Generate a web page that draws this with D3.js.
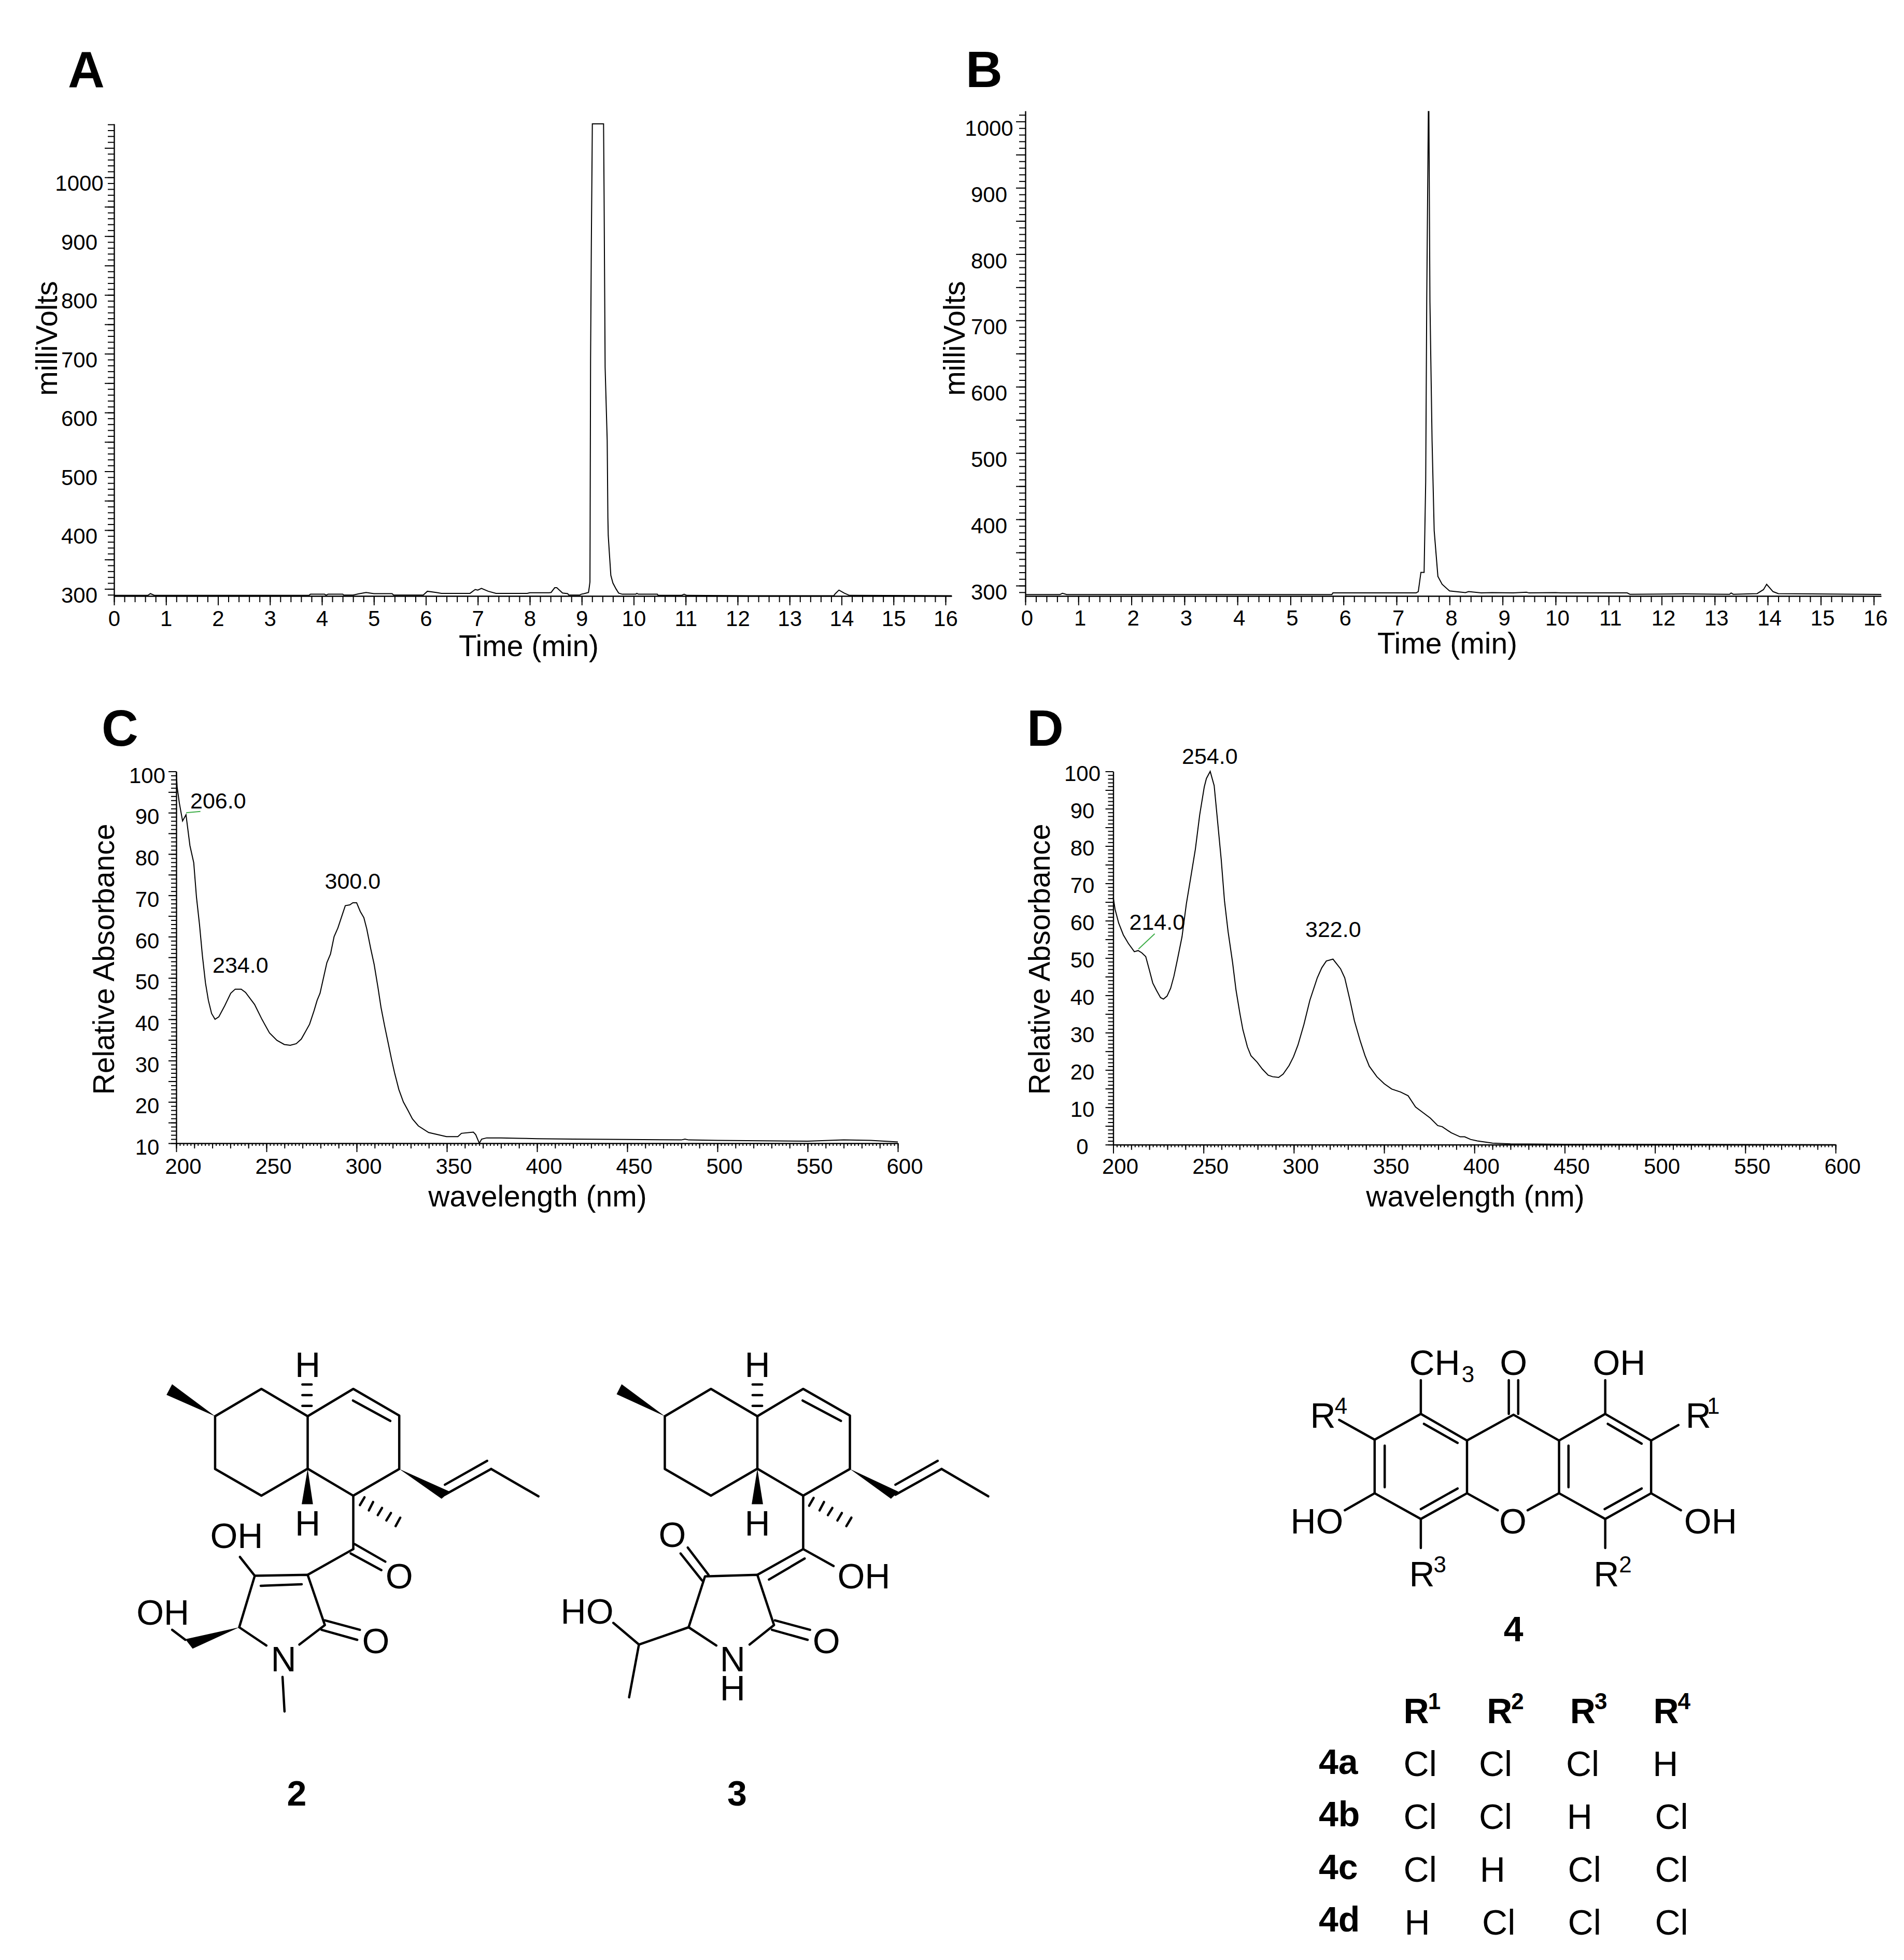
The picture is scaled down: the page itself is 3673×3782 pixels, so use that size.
<!DOCTYPE html>
<html><head><meta charset="utf-8">
<script src="https://cdnjs.cloudflare.com/ajax/libs/d3/7.8.5/d3.min.js"></script>
<style>html,body{margin:0;background:#fff}text{font-family:"Liberation Sans",Arial,sans-serif;fill:#000}</style>
</head><body><div id="chart"></div>
<script>
// ---------- chromatogram A ----------
const aTime=[0,0.65,0.7,0.78,3.75,3.78,4.05,4.08,4.12,4.4,4.42,4.6,4.7,4.85,5.0,5.35,5.38,5.95,6.03,6.2,6.3,6.85,6.95,7.0,7.07,7.2,7.35,7.95,8.0,8.37,8.41,8.48,8.52,8.63,8.73,8.75,8.96,8.99,9.045,9.13,9.145,9.158,9.161,9.17,9.185,9.204,9.42,9.43,9.45,9.49,9.503,9.51,9.53,9.56,9.6,9.66,9.71,9.78,10.04,10.06,10.09,10.455,10.47,10.92,10.97,11.02,12.2,13.85,13.88,13.95,14.05,14.15,16.12];
const aMv=[289,289,292,289,289,291,291,289.5,291,291,289.5,289.5,291.5,294,292,292,289.5,289.5,296,294,292.5,292.5,299,298,301,296,292.5,292.5,293.5,293.5,294,302,302,293,292,289.5,289.5,291,292,294,303,312,391,690,890,1091,1091,970,677,552,421,391,363,323,310,300,293,291,291,292.5,291,291,289,289,291,289,288.5,288.5,292,298,293,289,288.5];
// ---------- chromatogram B ----------
const bTime=[0,0.65,0.7,0.78,5.78,5.8,7.37,7.41,7.46,7.52,7.55,7.57,7.6,7.61,7.63,7.67,7.71,7.78,7.86,8.0,8.3,8.36,8.6,8.8,9.2,9.45,9.5,10,10.1,11.35,11.4,12.45,13.28,13.31,13.35,13.8,13.92,13.98,14.1,14.2,16.14];
const bMv=[286.5,286.5,288.5,286.5,286.5,289,289,291,320,320,457,735,1015,1015,728,519,383,314,302,292,289.5,291,289,289.5,289,290,289,289.5,289,289,287,287.5,287,289,287,288,294,302,291,288,286.7];
// ---------- UV spectrum C ----------
const cWave=[200,200.5,201.7,203.5,205.4,207.6,209.7,211.2,212.9,214.5,216.2,217.8,219.6,221.5,223.6,226.9,230.2,232.7,236,238.4,243.4,247.5,251.7,255.8,259.9,263.2,266.5,269.3,271.5,273.9,276.4,278.1,279.7,281.8,283.5,285.5,287.5,289.6,292.1,293.7,296.2,297.9,300,302,304,305.6,307.8,309.7,311.9,313.5,315.5,317.7,319.3,321,323.4,325.9,328.4,330.9,334.2,339.9,349.8,356.1,358.1,364.7,366,368,369.3,372.1,380,390,400,420,450,480,482,484,500,550,570,585,600];
const cAbs=[100,96.2,92.4,88,89.5,82,77.9,69.6,62.9,55.4,48.8,44.6,41.4,40,40.6,43.3,46.3,47.3,47.3,46.5,43.6,40,36.7,34.9,33.9,33.7,34.1,35.2,36.9,38.8,42.1,44.6,46.3,50.4,53.7,55.8,60,62.1,65.4,67.5,67.7,68.2,68.2,66.1,64.6,61.9,57.1,53.3,47.5,42.9,38.4,33.8,30.4,27.1,23,20,18,15.9,14.2,12.6,11.6,11.6,12.4,12.7,12.1,10,11,11.3,11.3,11.2,11.1,11,10.9,10.8,11,10.8,10.7,10.5,10.8,10.7,10.3];
// ---------- UV spectrum D ----------
const dWave=[200,201,203,205.6,208.4,211.7,213.8,215.8,218,219.9,221.9,224,226.2,227.8,229.8,231.8,233.6,235.6,238.1,240.5,243,245.5,247.9,250.4,251.6,253.7,255.9,257.8,259.8,261.6,263.6,266.1,268,270.2,271.8,274.3,276.3,279.7,282.5,285.8,288.3,291.6,294.1,297.4,299.8,302.3,305.6,308.9,313,315.5,318,321.7,325.9,328.2,331.1,333.6,336.9,339.4,341.8,346,350.1,354.2,359.1,363.3,367.4,371.5,375.6,379.7,382.2,387.1,392.1,394.6,397.9,401.6,410,420,450,600];
const dAbs=[66.3,63.1,59.4,56.2,53.9,51.7,52,51.4,50.4,47,43.3,41.3,39.4,39,39.8,41.9,45.1,49.7,55.7,64.5,71.8,79.2,88.4,95.8,98.1,100,96.2,86.6,76.4,65.4,57.1,48.8,41.4,35,30.8,26.2,23.8,22.1,20.3,18.6,18.2,18,18.9,21.2,23.5,26.7,32.2,38.7,44.7,47.4,49.2,49.7,47.1,44.7,38.7,33.1,27.6,23.9,21,18.2,16.3,14.9,14.1,13.1,10.1,8.6,7.1,5.1,4.8,3.2,2.1,2.1,1.4,1,0.4,0.2,0.1,0];
// ---------- tick labels ----------
const timeTicks=d3.range(0,17);
const mvTicksA=[300,400,500,600,700,800,900,1000];
const mvTicksB=[300,400,500,600,700,800,900,1000];
const waveTicks=[200,250,300,350,400,450,500,550,600];
const absTicksC=[10,20,30,40,50,60,70,80,90,100];
const absTicksD=[0,10,20,30,40,50,60,70,80,90,100];
// ---------- peak annotations ----------
const cPeakLabels=["206.0","234.0","300.0"];
const dPeakLabels=["254.0","214.0","322.0"];
// ---------- substituent table ----------
const subHeads=["1","2","3","4"];
const subRows=["4a","4b","4c","4d"];
const subVals=[["Cl","Cl","Cl","H"],["Cl","Cl","H","Cl"],["Cl","H","Cl","Cl"],["H","Cl","Cl","Cl"]];

const W=3673,H=3782;
const svg=d3.select("#chart").append("svg").attr("width",W).attr("height",H).style("display","block");
svg.append("rect").attr("width",W).attr("height",H).attr("fill","#fff");

function label(t,x,y,o={}){
  const e=svg.append("text").attr("x",x).attr("y",y).text(t)
    .attr("font-size",o.size||57).attr("text-anchor",o.anchor||"start")
    .attr("font-weight",o.bold?"bold":"normal");
  if(o.rot) e.attr("transform",`rotate(-90 ${x} ${y})`);
  return e;
}
// text followed by a raised or lowered small part, kept in one text element
function withScript(base,script,x,y,dx,dy,bold){
  const e=svg.append("text").attr("x",x).attr("y",y).attr("font-size",68)
    .attr("font-weight",bold?"bold":"normal");
  e.append("tspan").text(base);
  e.append("tspan").attr("dx",dx).attr("dy",dy).attr("font-size",44).text(script);
}

function panel(p){
  const x=d3.scaleLinear().domain(p.xDomain).range(p.xRange);
  const y=d3.scaleLinear().domain(p.yDomain).range(p.yRange);
  const g=svg.append("g");
  function tickLayer(axis,vals,size){
    const a=g.append("g").attr("transform",axis.t)
      .call(axis.fn.tickValues(vals).tickSize(size).tickFormat(""));
    a.selectAll("path").remove();
    a.selectAll("line").attr("stroke","#000").attr("stroke-width",2);
    return a;
  }
  const bx={t:`translate(0,${p.yRange[0]})`,fn:d3.axisBottom(x)};
  const ly={t:`translate(${p.xRange[0]},0)`,fn:d3.axisLeft(y)};
  p.xLevels.forEach(l=>tickLayer(bx,l.v,l.s));
  p.yLevels.forEach(l=>tickLayer(ly,l.v,l.s));
  const fmt=d3.format("d");
  const ax=g.append("g").attr("transform",bx.t).call(d3.axisBottom(x).tickValues(p.xTicks).tickSize(0).tickFormat(fmt));
  ax.select("path").attr("stroke","#000").attr("stroke-width",2.4);
  ax.selectAll("text").attr("font-size",42).attr("dy",null)
    .attr("x",p.xLabelDx).attr("y",p.xLabelY-p.yRange[0]).attr("text-anchor","middle");
  const ay=g.append("g").attr("transform",ly.t).call(d3.axisLeft(y).tickValues(p.yTicks).tickSize(0).tickFormat(fmt));
  ay.select("path").attr("stroke","#000").attr("stroke-width",2.4);
  ay.selectAll("text").attr("font-size",42).attr("dy","0.35em").attr("text-anchor","middle")
    .attr("x",p.yLabelX-p.xRange[0]).attr("y",p.yLabelDy);
  ax.attr("font-family",null);ay.attr("font-family",null);
  ax.selectAll("text").attr("fill","#000");ay.selectAll("text").attr("fill","#000");
  const line=d3.line().x((d,i)=>x(p.xs[i])).y((d,i)=>y(p.ys[i]));
  g.append("path").attr("d",line(p.xs)).attr("fill","none").attr("stroke","#000").attr("stroke-width",2);
  (p.greens||[]).forEach(s=>{
    g.append("line").attr("x1",x(s[0])).attr("y1",y(s[1])).attr("x2",x(s[2])).attr("y2",y(s[3]))
     .attr("stroke","#3fae49").attr("stroke-width",2);
  });
  return {x,y};
}
const mvLevels=(lo,hi)=>[
  {v:d3.range(lo,hi+1,10),s:12},
  {v:d3.range(300,hi+1,50),s:18}
];
const timeLevels=[{v:d3.range(0,16.01,0.2),s:12},{v:timeTicks,s:18}];
const waveLevels=[{v:d3.range(200,601,2),s:5},{v:d3.range(200,601,10),s:10},{v:waveTicks,s:17}];
const absLevels=lo=>[{v:d3.range(lo,101,1),s:10},{v:d3.range(lo,101,5),s:15}];

panel({xDomain:[0,16.12],xRange:[220,1836],yDomain:[288,1091],yRange:[1150,239],
  xs:aTime,ys:aMv,xTicks:timeTicks,yTicks:mvTicksA,xLevels:timeLevels,yLevels:mvLevels(290,1090),
  xLabelDx:0,xLabelY:1208,yLabelX:153,yLabelDy:11});
panel({xDomain:[0,16.14],xRange:[1978,3629],yDomain:[284.4,1016],yRange:[1150,214],
  xs:bTime,ys:bMv,xTicks:timeTicks,yTicks:mvTicksB,xLevels:timeLevels,yLevels:mvLevels(290,1010),
  xLabelDx:3,xLabelY:1207,yLabelX:1908,yLabelDy:12});
panel({xDomain:[200,600],xRange:[340,1732],yDomain:[10,100],yRange:[2206,1488.5],
  xs:cWave,ys:cAbs,xTicks:waveTicks,yTicks:absTicksC,xLevels:waveLevels,yLevels:absLevels(10),
  xLabelDx:13,xLabelY:2265,yLabelX:284,yLabelDy:7,
  greens:[[205.5,90,213.4,90.3]]});
panel({xDomain:[200,600],xRange:[2147.5,3541],yDomain:[0,100],yRange:[2208.7,1488.5],
  xs:dWave,ys:dAbs,xTicks:waveTicks,yTicks:absTicksD,xLevels:waveLevels,yLevels:absLevels(0),
  xLabelDx:13,xLabelY:2265,yLabelX:2088,yLabelDy:3,
  greens:[[214,52.4,223,56.5]]});

// titles
label("milliVolts",110,653,{rot:1,anchor:"middle"});
label("milliVolts",1861,653,{rot:1,anchor:"middle"});
label("Time (min)",1020,1266,{anchor:"middle"});
label("Time (min)",2792,1261,{anchor:"middle"});
label("Relative Absorbance",220,1851,{rot:1,anchor:"middle"});
label("Relative Absorbance",2025,1851,{rot:1,anchor:"middle"});
label("wavelength (nm)",1037,2328,{anchor:"middle"});
label("wavelength (nm)",2846,2328,{anchor:"middle"});
[["A",131,168],["B",1863,168],["C",196,1439],["D",1981,1439]].forEach(d=>label(d[0],d[1],d[2],{size:98,bold:1}));
// peak labels
[[367,1560],[410,1877],[626.5,1715]].forEach((d,i)=>label(cPeakLabels[i],d[0],d[1],{size:43}));
[[2280,1474],[2178.5,1794],[2518,1808]].forEach((d,i)=>label(dPeakLabels[i],d[0],d[1],{size:43}));

// ---------- chemical structures: drawing-unit coordinates mapped through scales ----------
function structure(m){
  const fx=d3.scaleLinear().domain([0,m.sx]).range([m.x0,m.x0+1]);
  const fy=d3.scaleLinear().domain([0,m.sy]).range([m.y0,m.y0+1]);
  const ln=d3.line().x(d=>fx(d[0])).y(d=>fy(d[1]));
  const g=svg.append("g");
  m.bonds.forEach(b=>{
    const pts=[];for(let i=0;i<b.length;i+=2)pts.push([b[i],b[i+1]]);
    g.append("path").attr("d",ln(pts)).attr("fill","none").attr("stroke","#000")
     .attr("stroke-width",4.5).attr("stroke-linejoin","round").attr("stroke-linecap","round");
  });
  (m.wedges||[]).forEach(b=>{
    const pts=[];for(let i=0;i<b.length;i+=2)pts.push([b[i],b[i+1]]);
    g.append("path").attr("d",ln(pts)+"Z").attr("fill","#000");
  });
  (m.texts||[]).forEach(t=>{
    label(t[0],fx(t[1]),fy(t[2]),{size:t[4]||68,anchor:t[3]||"middle",bold:t[5]});
  });
  (m.scripts||[]).forEach(t=>withScript(t[0],t[1],fx(t[2]),fy(t[3]),t[4],t[5]));
  return {fx,fy};
}
const mol2={x0:230,y0:2560,sx:1.568,sy:1.65,
 bonds:[[290,285,430,198,570,285,570,452,430,538,290,453,290,285],
  [570,285,708,198,847,283,847,453,708,538,570,452],[707,235,820,300],
  [554,252,582,252],[554,218,582,218],[554,184,582,184],
  [985,535,1125,453],[985,503,1113,427],[1125,453,1268,540],[708,538,708,708],
  [742,543,728,568],[768,558,755,585],[795,577,782,600],[822,593,808,617],[850,608,836,635],
  [712,692,805,748],[700,722,793,775],[708,708,570,790],
  [445,1015,363,957,410,793,570,790,622,950,545,1012],[428,825,552,820],[410,793,365,733],
  [622,935,728,965],[612,965,720,997],[494,1115,500,1225],[200,997,160,965]],
 wedges:[[290,285,160,183,143,217],[570,452,552,565,586,565],[847,453,1000,525,975,548],[363,957,200,995,222,1025]],
 texts:[["H",570,160],["H",570,665],["OH",275,705,"start"],["O",847,833],["OH",52,948,"start"],["O",776,1040],["N",497,1098],["2",537,1525,"middle",68,1]]};
const mol3={x0:1050,y0:2560,sx:1.742,sy:1.65,
 bonds:[[405,285,560,198,716,285,716,452,560,538,405,453,405,285],
  [716,285,870,198,1027,283,1027,453,870,538,716,452],[868,235,997,300],
  [700,252,732,252],[700,218,732,218],[700,184,732,184],
  [1180,535,1335,453],[1180,503,1322,427],[1335,453,1492,540],[870,538,870,708],
  [905,545,890,570],[940,558,925,585],[968,577,953,600],[1000,593,985,617],[1032,608,1015,635],
  [972,762,870,708,716,790],[875,738,755,805],
  [578,1015,485,957,540,795,716,790,772,950,690,1012],
  [552,790,482,703],[530,808,458,722],[775,935,893,965],[765,965,885,997],
  [485,957,318,1012,232,943],[318,1012,285,1180]],
 wedges:[[405,285,260,183,243,215],[716,452,697,565,735,565],[1027,453,1190,525,1165,548]],
 texts:[["H",716,160],["H",716,665],["OH",985,833,"start"],["O",430,702],["O",948,1040],["HO",55,945,"start"],["3",648,1525,"middle",68,1]]};
const mol4={x0:2450,y0:2560,sx:1.65,sy:1.307,
 bonds:[[333,285,480,220,627,287,627,420,480,485,333,420,333,285],[490,245,597,293],[365,300,365,405],[480,460,597,408],
  [627,287,775,222,920,287],[627,420,725,463],[820,463,920,420],
  [920,287,1067,220,1213,287,1213,420,1067,485,920,420,920,287],[1075,245,1183,295],[950,300,950,405],[1065,460,1183,408],
  [480,220,480,135],[760,220,760,135],[790,220,790,135],[1067,220,1067,135],[1213,287,1300,248],[333,285,220,235],[333,420,238,463],[1213,420,1308,463],[480,485,480,558],[1067,485,1067,558]],
 texts:[["O",775,122],["OH",1027,122,"start"],["HO",65,522,"start"],["O",773,522],["OH",1318,522,"start"],["4",775,793,"middle",68,1]],
 scripts:[["CH","3",443,122,3,14],["R","1",1323,255,-8,-27],["R","4",128,255,-2,-27],["R","3",443,655,-2,-27],["R","2",1030,655,0,-27]]};
const s2=structure(mol2);
const s3=structure(mol3);
const s4=structure(mol4);
// NH of compound 3: two lines inside one text element
const nh=svg.append("text").attr("font-size",68).attr("text-anchor","middle");
nh.append("tspan").attr("x",s3.fx(633)).attr("y",s3.fy(1098)).text("N");
nh.append("tspan").attr("x",s3.fx(633)).attr("y",s3.fy(1190)).text("H");

// substituent table
const headX=[425,690,955,1220],rowLabelY=[1128,1260,1393,1525],cellY=[1133,1267,1400,1533];
const cellX=[[425,665,942,1218],[425,665,945,1225],[425,668,948,1225],[428,675,948,1225]];
subHeads.forEach((h,i)=>withScript("R",h,s4.fx(headX[i]),s4.fy(1000),-2,-27,true));
subRows.forEach((r,i)=>{
  label(r,s4.fx(155),s4.fy(rowLabelY[i]),{size:68,bold:1});
  subVals[i].forEach((v,j)=>label(v,s4.fx(cellX[i][j]),s4.fy(cellY[i]),{size:68}));
});
</script></body></html>
